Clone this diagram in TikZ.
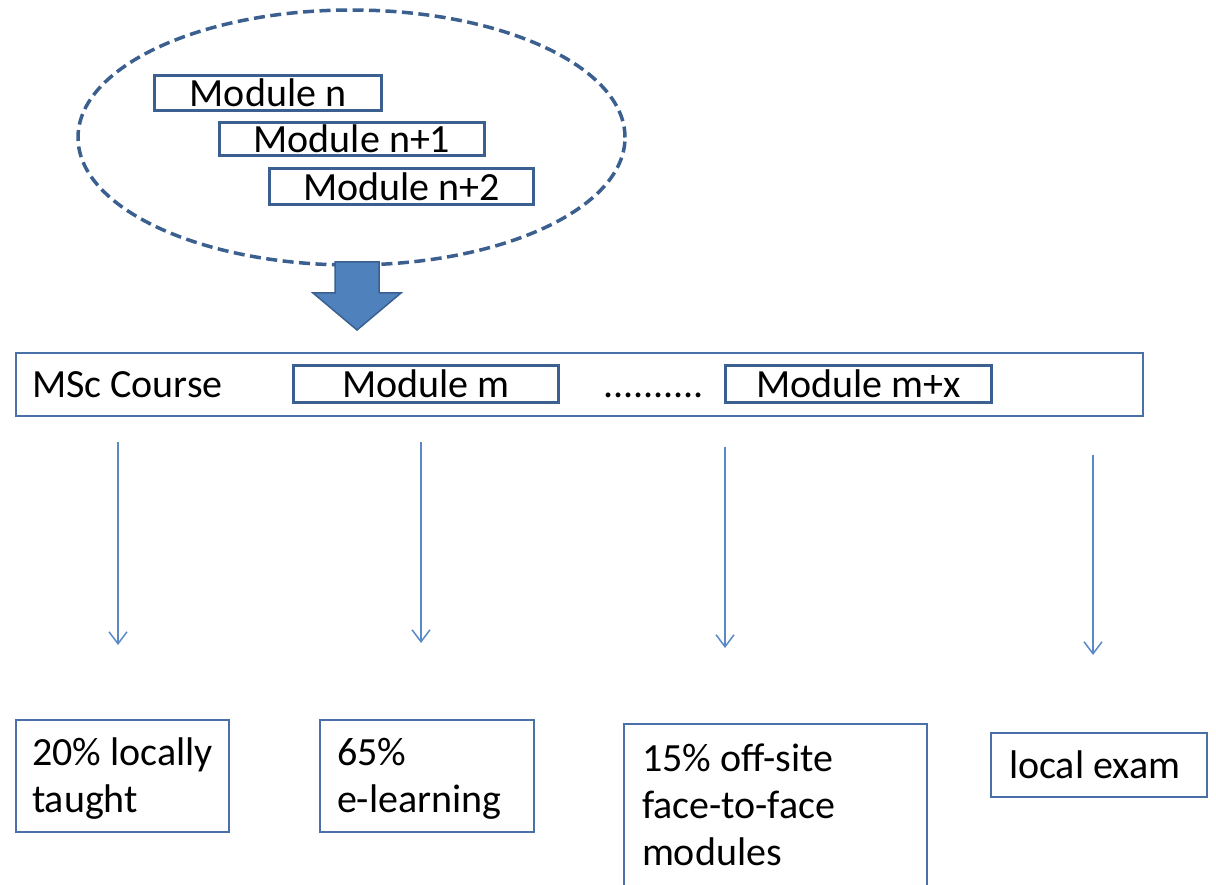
\documentclass[tikz,border=0pt]{standalone}
\usepackage{fontspec}
\setmainfont{Carlito}
\usetikzlibrary{shapes.geometric,arrows.meta}
\definecolor{boxblue}{HTML}{4A70A8}
\definecolor{darkblue}{HTML}{3B6090}
\definecolor{arrowblue}{HTML}{5A8AC6}
\definecolor{fillblue}{HTML}{4F81BD}
\begin{document}
\begin{tikzpicture}[x=1pt,y=-1pt,
  every node/.style={font=\fontsize{40}{47}\selectfont, inner sep=0pt, outer sep=0pt},
  thinbox/.style={draw=boxblue, line width=1.8pt, rectangle},
  modbox/.style={draw=darkblue, line width=3pt, rectangle, text height=27.5pt, text depth=0pt},
  lbl/.style={anchor=base west},
  downarrow/.style={draw=arrowblue, line width=1.5pt, -{Straight Barb[length=12pt,width=18pt,line width=1.5pt]}},
  blockarrow/.style={fill=fillblue, draw=darkblue, line width=1.5pt, line join=miter}
]
\useasboundingbox (0,0) rectangle (1216,885);

% pool of modules
\node[ellipse, draw=darkblue, line width=3.5pt, dash pattern=on 11pt off 5.5pt,
      minimum width=547pt, minimum height=255pt] (pool) at (351.5,137.5) {};
\node[modbox, minimum width=227pt, minimum height=35pt] (modn)  at (268,93) {Module n};
\node[modbox, minimum width=265pt, minimum height=33pt] (modn1) at (352,139) {Module n+1};
\node[modbox, minimum width=264pt, minimum height=36pt] (modn2) at (401.5,186.5) {Module n+2};

% block arrow
\draw[blockarrow] (335,262) -- (379,262) -- (379,293) -- (401,293) -- (357,330)
      -- (313,293) -- (335,293) -- cycle;

% MSc course bar
\node[thinbox, minimum width=1127.5pt, minimum height=63.5pt] (course) at (579.5,384.5) {};
\node[lbl] (msc) at (32,397) {MSc Course};
\node[modbox, minimum width=265pt, minimum height=37pt] (modm) at (426,384) {Module m};
\node[lbl] (dots) at (603,397) {..........};
\node[modbox, minimum width=266pt, minimum height=37pt] (modmx) at (858.5,384) {Module m+x};

% thin arrows
\coordinate (s1) at (118,442);  \coordinate (e1) at (118,645);
\coordinate (s2) at (421,442);  \coordinate (e2) at (421,643);
\coordinate (s3) at (725,447);  \coordinate (e3) at (725,648);
\coordinate (s4) at (1093,455); \coordinate (e4) at (1093,655);
\draw[downarrow] (s1) -- (e1);
\draw[downarrow] (s2) -- (e2);
\draw[downarrow] (s3) -- (e3);
\draw[downarrow] (s4) -- (e4);

% bottom boxes
\node[thinbox, minimum width=213.5pt, minimum height=112.5pt] (b1) at (122.5,776) {};
\node[lbl] (t1a) at (32,765) {20\% locally};
\node[lbl] (t1b) at (32,812) {taught};

\node[thinbox, minimum width=214.5pt, minimum height=112.5pt] (b2) at (427,776) {};
\node[lbl] (t2a) at (337,765) {65\%};
\node[lbl] (t2b) at (337,812) {e-learning};

\node[thinbox, minimum width=303.5pt, minimum height=176pt] (b3) at (775.5,812) {};
\node[lbl] (t3a) at (642,771) {15\% off-site};
\node[lbl] (t3b) at (642,818) {face-to-face};
\node[lbl] (t3c) at (642,865) {modules};

\node[thinbox, minimum width=216.5pt, minimum height=64.5pt] (b4) at (1099,765) {};
\node[lbl] (t4) at (1009,778) {local exam};
\end{tikzpicture}
\end{document}
